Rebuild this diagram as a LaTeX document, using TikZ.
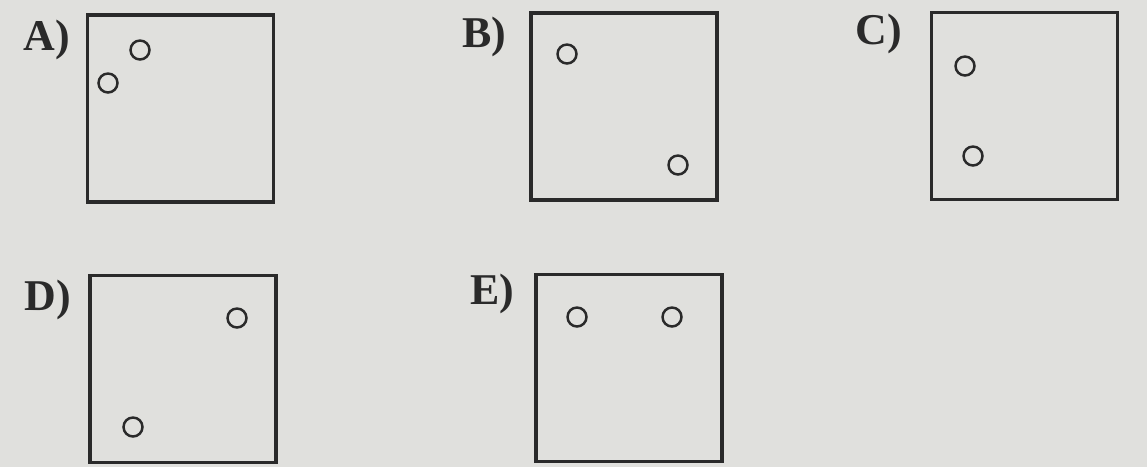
\documentclass[tikz,border=0pt]{standalone}
\usepackage{fontspec}
\setmainfont{Liberation Serif}
\usepackage{xcolor}
\usepackage{tikz}
\definecolor{paper}{HTML}{E0E0DD}
\definecolor{ink}{HTML}{2A2A2A}

\tikzset{
  frame/.style={draw=ink, line width=1.9pt, minimum width=3.72cm, minimum height=3.74cm, inner sep=0pt},
  dot/.style={circle, draw=ink, line width=1.4pt, minimum size=0.38cm, inner sep=0pt},
  lab/.style={text=ink, font=\fontsize{25}{28}\selectfont\bfseries, inner sep=0pt}
}

\begin{document}
\begin{tikzpicture}[x=0.02cm, y=-0.02cm]
  \fill[paper] (0,0) rectangle (1147,467);
  % top row
  \node[frame] (boxA) at (180.5,108.5) {};
  \node[lab] (labA) at (47,40) {A)};
  \node[dot] (a1) at (140,50) {};
  \node[dot] (a2) at (108,83) {};

  \node[frame] (boxB) at (624,106.5) {};
  \node[lab] (labB) at (484,37) {B)};
  \node[dot] (b1) at (567,54) {};
  \node[dot] (b2) at (678,165) {};

  \node[frame] (boxC) at (1024.5,106) {};
  \node[lab] (labC) at (879,34) {C)};
  \node[dot] (c1) at (965,66) {};
  \node[dot] (c2) at (973,156) {};

  % bottom row
  \node[frame] (boxD) at (183,369) {};
  \node[lab] (labD) at (48,300) {D)};
  \node[dot] (d1) at (237,318) {};
  \node[dot] (d2) at (133,427) {};

  \node[frame] (boxE) at (629,368) {};
  \node[lab] (labE) at (492,294) {E)};
  \node[dot] (e1) at (577,317) {};
  \node[dot] (e2) at (672,317) {};
\end{tikzpicture}
\end{document}
